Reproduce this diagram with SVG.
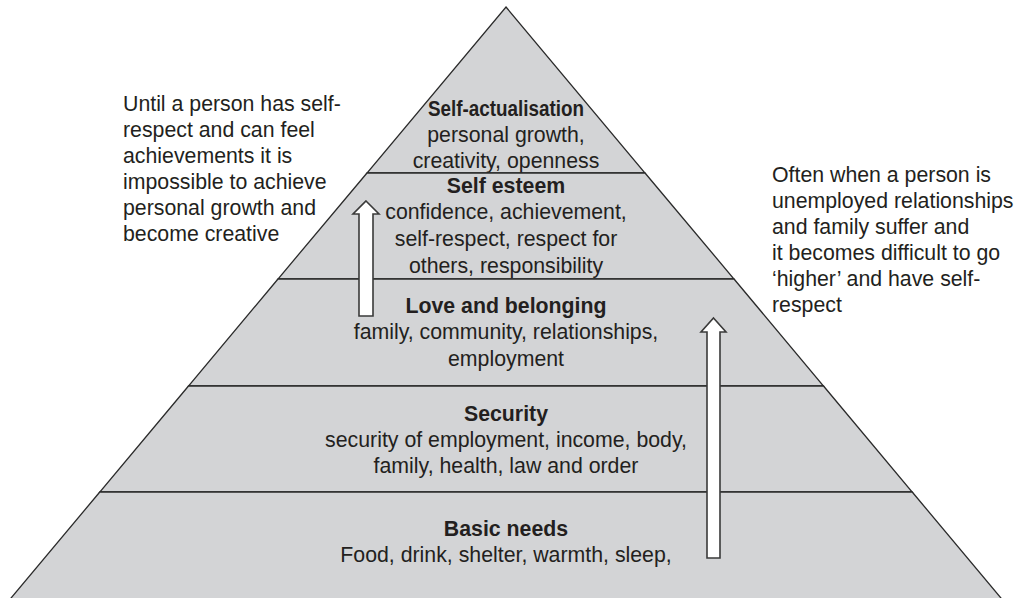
<svg xmlns="http://www.w3.org/2000/svg" width="1018" height="598" viewBox="0 0 1018 598">
<style>
.tier{fill:#d3d4d6;stroke:#2a2a2a;stroke-width:1.3;stroke-linejoin:miter}
text{font-family:"Liberation Sans",Arial,sans-serif;font-size:21.3px;fill:#231f20}
.c{text-anchor:middle}
.b{font-weight:bold}
.arrow{fill:#ffffff;stroke:#3a3a3a;stroke-width:1.6}
</style>
<rect width="1018" height="598" fill="#ffffff"/>
<g id="tier-self-actualisation">
<polygon class="tier" points="506,7 645,173 367,173"/>
<text class="c b" x="506" y="116" textLength="156" lengthAdjust="spacingAndGlyphs">Self-actualisation</text>
<text class="c" x="506" y="142">personal growth,</text>
<text class="c" x="506" y="168">creativity, openness</text>
</g>
<g id="tier-self-esteem">
<polygon class="tier" points="367,173 645,173 734,279 278,279"/>
<text class="c b" x="506" y="193">Self esteem</text>
<text class="c" x="506" y="219">confidence, achievement,</text>
<text class="c" x="506" y="246">self-respect, respect for</text>
<text class="c" x="506" y="273">others, responsibility</text>
</g>
<g id="tier-love">
<polygon class="tier" points="278,279 734,279 823.5,386 188.5,386"/>
<text class="c b" x="506" y="313">Love and belonging</text>
<text class="c" x="506" y="339">family, community, relationships,</text>
<text class="c" x="506" y="366">employment</text>
</g>
<g id="tier-security">
<polygon class="tier" points="188.5,386 823.5,386 912.2,492 99.8,492"/>
<text class="c b" x="506" y="421">Security</text>
<text class="c" x="506" y="447">security of employment, income, body,</text>
<text class="c" x="506" y="473">family, health, law and order</text>
</g>
<g id="tier-basic">
<polygon class="tier" points="99.8,492 912.2,492 1002.6,600 9.4,600"/>
<text class="c b" x="506" y="536">Basic needs</text>
<text class="c" x="506" y="562">Food, drink, shelter, warmth, sleep,</text>
</g>
<g id="note-left">
<text x="123" y="111">Until a person has self-</text>
<text x="123" y="137">respect and can feel</text>
<text x="123" y="163">achievements it is</text>
<text x="123" y="189">impossible to achieve</text>
<text x="123" y="215">personal growth and</text>
<text x="123" y="241">become creative</text>
</g>
<g id="note-right">
<text x="772" y="182">Often when a person is</text>
<text x="772" y="208">unemployed relationships</text>
<text x="772" y="234">and family suffer and</text>
<text x="772" y="260">it becomes difficult to go</text>
<text x="772" y="286">‘higher’ and have self-</text>
<text x="772" y="312">respect</text>
</g>
<g id="connectors">
<polygon class="arrow" points="366,201 379,214 373,214 373,316 359,316 359,214 353,214"/>
<polygon class="arrow" points="713.5,318 726,332 720,332 720,558 707,558 707,332 701,332"/>
</g>
</svg>
